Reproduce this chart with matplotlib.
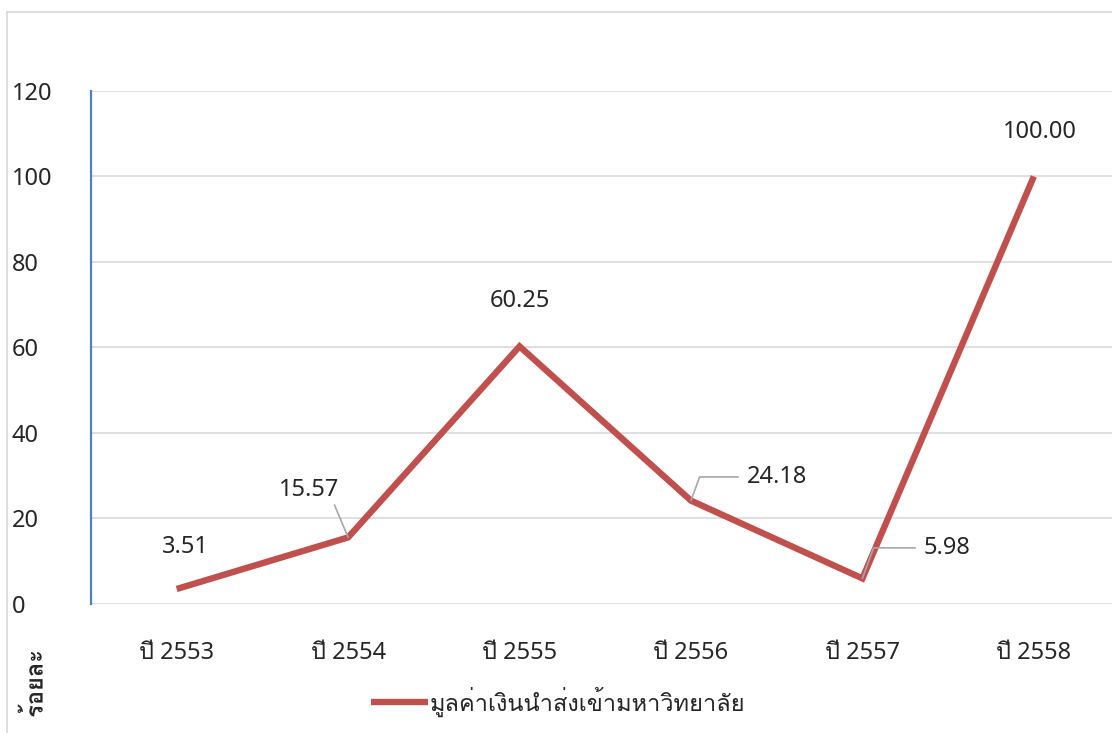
#!/usr/bin/env python3

import matplotlib
matplotlib.use("Agg")
import matplotlib.pyplot as plt
import matplotlib.patheffects as pe
from matplotlib import font_manager as fm
from matplotlib.ft2font import FT2Font
from matplotlib.lines import Line2D

years = ["ปี 2553", "ปี 2554", "ปี 2555", "ปี 2556", "ปี 2557", "ปี 2558"]
values = [3.51, 15.57, 60.25, 24.18, 5.98, 100.00]
yticks = [0, 20, 40, 60, 80, 100, 120]
series_name = "มูลค่าเงินนำส่งเข้ามหาวิทยาลัย"
y_title = "ร้อยละ"

# label offsets (points) from each data point, and whether to draw a leader line
label_offsets = [(6, 30), (-28, 34), (0, 33), (40, 17), (44, 22), (4, 32)]
label_leaders = [None, "straight", None, "elbow", "elbow", None]


def find_thai_font():
    # look for any installed font that has Thai glyphs
    for f in fm.fontManager.ttflist:
        try:
            cmap = FT2Font(f.fname).get_charmap()
        except Exception:
            continue
        if 0x0E01 in cmap and 0x0E31 in cmap:
            return f.name
    return None


thai = find_thai_font()
# digits/latin from Noto Sans, Thai falls through to the Thai font
families = ["Noto Sans"] + ([thai] if thai else []) + ["DejaVu Sans"]
plt.rcParams["font.family"] = families

FS = 17
TXT = "#262626"

fig = plt.figure(figsize=(11.12, 7.33), dpi=100)
ax = fig.add_axes([0.0818, 0.176, 0.925, 0.700])

x = list(range(len(years)))
line_color = "#c0504d"
ax.plot(x, values, color=line_color, linewidth=4.6, solid_joinstyle="miter",
        solid_capstyle="butt", zorder=3, label=series_name)

ax.set_xlim(-0.5, len(years) - 0.5)
ax.set_ylim(0, 120)
ax.set_yticks(yticks)
ax.set_yticklabels([str(t) for t in yticks])
ax.set_xticks(x)
ax.set_xticklabels(years)
ax.tick_params(axis="y", length=0, pad=57, labelsize=FS, labelcolor=TXT)
ax.tick_params(axis="x", length=0, pad=27, labelsize=FS, labelcolor=TXT)
for lab in ax.get_yticklabels():
    lab.set_horizontalalignment("left")

ax.grid(axis="y", color="#d9d9d9", linewidth=1.2)
ax.set_axisbelow(True)
for side in ["top", "right", "bottom"]:
    ax.spines[side].set_visible(False)
ax.spines["left"].set_color("#4f81bd")
ax.spines["left"].set_linewidth(1.6)

for xi, v, off, lead in zip(x, values, label_offsets, label_leaders):
    props = None
    if lead == "straight":
        props = dict(arrowstyle="-", color="#a6a6a6", lw=1.2, shrinkA=0, shrinkB=0,
                     relpos=(0.9, 0.0))
    elif lead == "elbow":
        props = dict(arrowstyle="-", color="#a6a6a6", lw=1.2, shrinkA=4, shrinkB=0,
                     relpos=(0.0, 0.5), connectionstyle="angle,angleA=0,angleB=70,rad=0")
    ax.annotate(f"{v:.2f}", xy=(xi, v), xytext=off, textcoords="offset points",
                ha="center" if lead != "elbow" else "left", va="center",
                fontsize=FS, color=TXT, arrowprops=props)

# outer chart frame (left and top edges visible)
fig.add_artist(Line2D([0.0063, 0.0063], [0.0, 0.9836], color="#d9d9d9", lw=1.2))
fig.add_artist(Line2D([0.0063, 1.0], [0.9836, 0.9836], color="#d9d9d9", lw=1.2))

# rotated Thai title: draw as a path so the tone mark lands on its consonant
fig.text(0.032, 0.067, y_title, rotation=90, ha="center", va="center",
         fontsize=FS, fontweight="bold", color=TXT,
         family=[thai] if thai else families,
         path_effects=[pe.Normal()])

fig.legend(loc="center", bbox_to_anchor=(0.502, 0.043), frameon=False,
           fontsize=FS, handlelength=2.4, handletextpad=0.1,
           labelcolor=TXT)

fig.savefig("out.png", dpi=100)
